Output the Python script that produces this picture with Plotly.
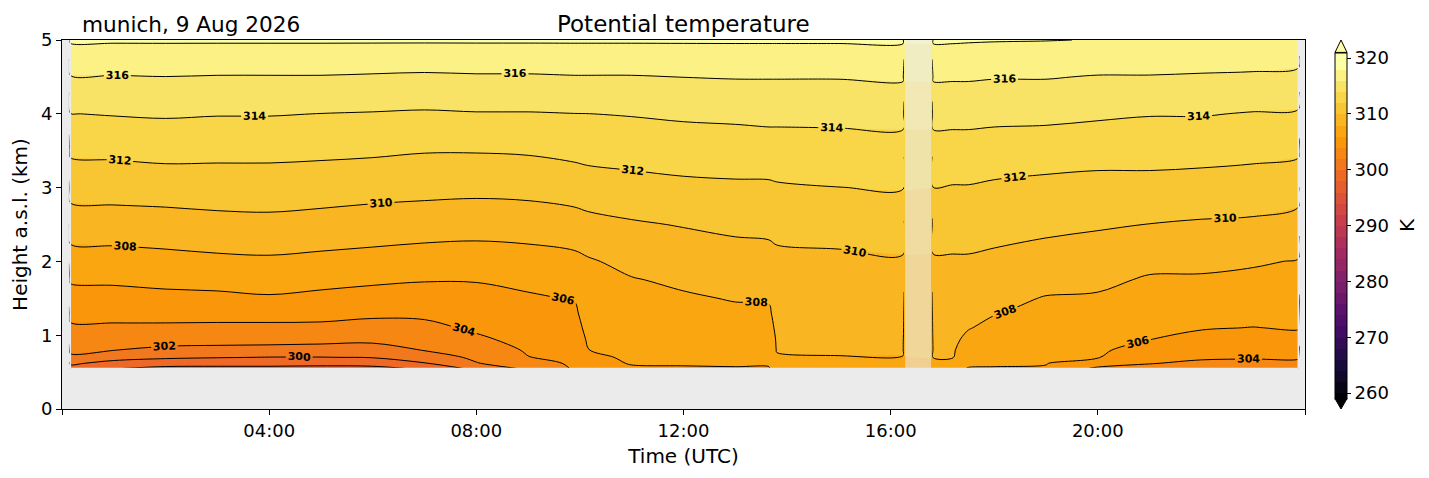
import numpy as np
import plotly.graph_objects as go
from plotly.colors import sample_colorscale

site_label = "munich, 9 Aug 2026"
title_text = "Potential temperature"

# time axis (hours UTC); 0.13 / 16.26 / 16.80 / 23.90 are the edge columns where the retrieval dips
time_h = [0.13, 0.16, 1, 2, 3, 4, 5, 6, 7, 8, 9, 9.9, 10.15, 11, 12, 13, 13.65, 13.8, 15, 16.24,
          16.26, 16.80,
          16.82, 17.2, 17.5, 18, 19, 20, 21, 22, 23, 23.87, 23.9]
height_km = [0.55, 0.62, 0.70, 0.80, 0.95, 1.1, 1.3, 1.5, 1.75, 2.0, 2.5, 3.0, 3.5, 4.0, 4.5, 5.0]

# potential temperature (K), one list per height level
th_0550 = [298.8, 299.3, 298.1, 297.5, 297.5, 297.5, 297.4, 297.5, 298.3, 300.6, 302.4, 304.2, 305.2, 305.8, 305.9, 305.95, 305.95, 306.6, 306.5, 306.5,
           306.1, 306.2,
           306.6, 306.3, 305.95, 305.95, 305.9, 303.6, 303.3, 302.2, 302.2, 302.5, 302.0]
th_0620 = [299.5, 300.3, 299.4, 298.9, 298.7, 298.7, 298.6, 298.7, 299.9, 301.9, 303.2, 304.3, 305.4, 306.1, 306.1, 306.1, 306.1, 307.3, 307.0, 307.1,
           306.3, 306.5,
           307.3, 307.1, 306.2, 306.1, 306.05, 305.1, 304.1, 303.6, 303.5, 303.5, 302.7]
th_0700 = [301.2, 301.7, 300.7, 300.3, 300.1, 299.95, 299.95, 300.1, 300.9, 302.4, 303.95, 304.5, 305.7, 306.2, 306.2, 306.3, 306.3, 307.8, 307.97, 307.97,
           306.8, 306.9,
           308.1, 308.1, 306.5, 306.4, 306.2, 306.1, 304.6, 304.3, 304.2, 304.2, 303.2]
th_0800 = [301.8, 302.3, 302.05, 301.6, 301.5, 301.4, 301.3, 301.2, 302.1, 302.9, 304.2, 304.7, 305.98, 306.3, 306.4, 306.5, 306.6, 308.1, 308.1, 308.1,
           306.9, 307.0,
           308.2, 308.2, 307.0, 306.7, 306.4, 306.3, 305.2, 304.8, 304.7, 304.7, 303.7]
th_0950 = [302.2, 303.0, 302.9, 302.8, 302.7, 302.7, 302.6, 302.5, 302.8, 303.7, 304.6, 305.0, 306.2, 306.6, 306.7, 306.9, 306.9, 308.2, 308.3, 308.3,
           307.0, 307.2,
           308.4, 308.4, 307.6, 307.1, 306.7, 306.6, 306.05, 305.6, 305.3, 305.5, 304.5]
th_1100 = [302.9, 303.7, 303.7, 303.7, 303.6, 303.6, 303.6, 303.3, 303.5, 304.3, 304.9, 305.3, 306.5, 306.8, 307.0, 307.2, 307.3, 308.4, 308.5, 308.6,
           307.4, 307.4,
           308.6, 308.6, 308.1, 307.5, 307.0, 306.9, 306.4, 306.1, 305.97, 306.1, 305.1]
th_1300 = [303.7, 304.5, 304.6, 304.6, 304.7, 304.7, 304.6, 304.4, 304.4, 304.8, 305.3, 305.7, 306.8, 307.1, 307.4, 307.7, 307.7, 308.7, 308.8, 308.8,
           307.6, 307.6,
           308.8, 308.8, 308.5, 308.1, 307.5, 307.4, 306.8, 306.6, 306.5, 306.5, 305.5]
th_1500 = [304.4, 305.2, 305.3, 305.5, 305.6, 305.8, 305.5, 305.3, 305.2, 305.4, 305.8, 306.1, 307.1, 307.5, 307.8, 308.1, 308.2, 309.0, 309.0, 309.1,
           307.9, 307.9,
           309.1, 309.1, 308.8, 308.5, 307.9, 307.8, 307.2, 307.1, 307.0, 306.9, 305.9]
th_1750 = [305.2, 306.2, 306.3, 306.5, 306.6, 306.8, 306.6, 306.3, 306.1, 306.1, 306.4, 306.8, 307.5, 307.9, 308.3, 308.7, 308.7, 309.3, 309.3, 309.5,
           308.2, 308.2,
           309.4, 309.4, 309.3, 309.1, 308.6, 308.4, 307.8, 307.8, 307.6, 307.4, 306.4]
th_2000 = [306.1, 307.1, 307.2, 307.4, 307.6, 307.7, 307.5, 307.3, 307.1, 307.0, 307.2, 307.5, 307.8, 308.5, 308.9, 309.2, 309.3, 309.6, 309.7, 309.8,
           308.6, 308.6,
           309.8, 309.8, 309.8, 309.6, 309.3, 309.0, 308.5, 308.4, 308.2, 307.9, 306.9]
th_2500 = [308.0, 309.0, 309.1, 309.2, 309.4, 309.5, 309.3, 309.1, 308.9, 308.8, 308.9, 309.2, 309.4, 309.8, 310.1, 310.4, 310.5, 310.5, 310.6, 310.9,
           309.9, 309.8,
           310.8, 310.8, 310.8, 310.7, 310.4, 310.2, 309.97, 309.8, 309.7, 309.3, 308.5]
th_3000 = [309.7, 310.7, 310.8, 310.9, 311.0, 311.0, 310.9, 310.7, 310.6, 310.5, 310.6, 310.9, 311.1, 311.3, 311.6, 311.7, 311.7, 311.8, 311.98, 312.1,
           311.1, 311.0,
           311.99, 311.9, 311.9, 311.7, 311.5, 311.4, 311.4, 311.2, 311.1, 310.8, 310.0]
th_3500 = [311.3, 312.3, 312.4, 312.6, 312.5, 312.5, 312.4, 312.3, 312.1, 312.1, 312.2, 312.5, 312.6, 312.8, 312.9, 313.0, 313.1, 313.1, 313.2, 313.2,
           312.2, 312.2,
           313.2, 313.2, 313.2, 313.1, 312.9, 312.7, 312.7, 312.7, 312.5, 312.3, 311.5]
th_4000 = [312.9, 313.97, 314.1, 314.2, 314.1, 314.1, 313.98, 313.9, 313.8, 313.9, 313.9, 313.98, 313.99, 314.1, 314.3, 314.4, 314.5, 314.5, 314.5, 314.6,
           313.5, 313.5,
           314.6, 314.6, 314.6, 314.5, 314.5, 314.3, 314.1, 314.1, 313.9, 313.8, 313.0]
th_4500 = [314.8, 315.9, 315.9, 315.98, 315.9, 315.9, 315.9, 315.8, 315.7, 315.8, 315.8, 315.9, 315.9, 315.9, 316.02, 316.1, 316.1, 316.1, 316.1, 316.2,
           315.0, 315.0,
           316.2, 316.2, 316.2, 316.1, 316.1, 315.9, 315.9, 315.8, 315.7, 315.5, 314.7]
th_5000 = [317.3, 318.2, 318.2, 318.2, 318.2, 318.2, 318.2, 318.2, 318.2, 318.2, 318.2, 318.2, 318.2, 318.2, 318.2, 318.2, 318.2, 318.2, 318.2, 318.2,
           317.1, 317.1,
           318.2, 318.2, 318.15, 318.1, 318.05, 317.95, 317.9, 317.8, 317.8, 317.6, 317.0]

gap_h = [16.28, 16.78]          # missing data, shaded
edge_cols = [0, 20, 21, 32]     # dipping edge columns (drawn by the isolines only)
gap_split = (20, 21)            # last column left of the gap, first column right of it

levels = dict(start=260, end=320, size=2)
cbar_ticks = [260, 270, 280, 290, 300, 310, 320]
hour_ticks = [0, 4, 8, 12, 16, 20, 24]
hour_text = ["", "04:00", "08:00", "12:00", "16:00", "20:00", ""]

theta = np.array([th_0550, th_0620, th_0700, th_0800, th_0950, th_1100, th_1300, th_1500,
                  th_1750, th_2000, th_2500, th_3000, th_3500, th_4000, th_4500, th_5000])
t = np.array(time_h)

# page geometry in px; the page body keeps an 8 px margin around the figure
body = 8
W, H = 1429 - body, 478 - body
ax_l, ax_r, ax_t, ax_b = 62, 1305, 40, 409          # axes box on the page
ml, mt = ax_l - body, ax_t - body
mr, mb = W + body - ax_r, H + body - ax_b
pw, ph = ax_r - ax_l, ax_b - ax_t
bg = "#ebebeb"


def px_x(x):
    return (x - ax_l) / pw


def px_y(y):
    return (ax_b - y) / ph


# inferno bands, each band shown with the colour of its upper level
span = levels["end"] - levels["start"]
n_band = int(span / levels["size"])
full = span + levels["size"]
stops = [0.0] + [(k + 1) * levels["size"] / full for k in range(n_band)] + [1.0]
cols = sample_colorscale("Inferno", [min(1.0, s * full / span) for s in stops])
colorscale = [[s, c] for s, c in zip(stops, cols)]

# colourbar: 320 at y=58, 260 at y=393; plotly adds half a band at each end
half = (393 - 58) / span * levels["size"] / 2
cb_x0, cb_x1 = px_x(1335), px_x(1347)
cb_top, cb_bot = px_y(58 - half), px_y(393 + half)

fig = go.Figure()

fill_idx = [i for i in range(len(time_h)) if i not in edge_cols]
t_fill = t[fill_idx]
fig.add_trace(go.Contour(
    x=t_fill, y=height_km, z=theta[:, fill_idx],
    autocontour=False,
    contours=dict(start=levels["start"], end=levels["end"], size=levels["size"],
                  coloring="fill", showlines=False),
    line=dict(width=0),
    colorscale=colorscale,
    colorbar=dict(x=cb_x0, xanchor="left", xpad=0, y=cb_bot, yanchor="bottom",
                  len=cb_top - cb_bot, lenmode="fraction", ypad=0,
                  thickness=12, thicknessmode="pixels",
                  outlinewidth=1, outlinecolor="black",
                  tickvals=cbar_ticks, ticks="outside", ticklen=4, tickcolor="black",
                  tickfont=dict(size=18, color="black")),
    hoverinfo="skip",
))

# black isolines, split at the data gap
for sl in (slice(0, gap_split[0] + 1), slice(gap_split[1], None)):
    fig.add_trace(go.Contour(
        x=t[sl], y=height_km, z=theta[:, sl],
        autocontour=False,
        contours=dict(start=levels["start"], end=levels["end"], size=levels["size"],
                      coloring="none", showlabels=True,
                      labelfont=dict(size=11, color="black", family="DejaVu Sans", weight="bold")),
        line=dict(color="black", width=1),
        showscale=False,
        hoverinfo="skip",
    ))

shapes = [
    dict(type="rect", xref="x", yref="y", x0=gap_h[0], x1=gap_h[1],
         y0=height_km[0], y1=height_km[-1], fillcolor=bg, opacity=0.6,
         line=dict(width=0), layer="above"),
    # extend triangles on the colourbar
    dict(type="path", xref="paper", yref="paper",
         path=f"M {cb_x0},{cb_top} L {cb_x1},{cb_top} L {(cb_x0 + cb_x1) / 2},{px_y(40)} Z",
         fillcolor=cols[-1], line=dict(color="black", width=1)),
    dict(type="path", xref="paper", yref="paper",
         path=f"M {cb_x0},{cb_bot} L {cb_x1},{cb_bot} L {(cb_x0 + cb_x1) / 2},{px_y(409)} Z",
         fillcolor=cols[0], line=dict(color="black", width=1)),
]
# hide the antialiasing fringe of the stacked fills along the data edges
for xe in (t_fill[0], t_fill[-1]):
    shapes.append(dict(type="line", xref="x", yref="y", x0=xe, x1=xe,
                       y0=height_km[0], y1=height_km[-1], line=dict(color=bg, width=1.5)))
shapes.append(dict(type="line", xref="x", yref="y", x0=t_fill[0], x1=t_fill[-1],
                   y0=height_km[0], y1=height_km[0], line=dict(color=bg, width=1.2)))

annotations = [
    dict(text=title_text, xref="paper", yref="paper", x=0.5, y=1, xanchor="center",
         yanchor="bottom", yshift=1, showarrow=False, font=dict(size=23, color="black")),
    dict(text=site_label, xref="paper", yref="paper", x=px_x(80), y=1, xanchor="left",
         yanchor="bottom", yshift=1, showarrow=False, font=dict(size=21.6, color="black")),
    dict(text="K", xref="paper", yref="paper", x=px_x(1407), y=px_y(225), xanchor="center",
         yanchor="middle", textangle=-90, showarrow=False, font=dict(size=20, color="black")),
]

axis_style = dict(showline=True, linecolor="black", linewidth=1, mirror=True,
                  ticks="outside", ticklen=5, tickcolor="black", showgrid=False,
                  zeroline=False, tickfont=dict(size=18, color="black"))

fig.update_layout(
    width=W, height=H,
    margin=dict(l=ml, r=mr, t=mt, b=mb),
    paper_bgcolor="white",
    plot_bgcolor=bg,
    font=dict(family="DejaVu Sans", color="black"),
    showlegend=False,
    shapes=shapes,
    annotations=annotations,
    xaxis=dict(range=[0, 24], tickvals=hour_ticks, ticktext=hour_text,
               title=dict(text="Time (UTC)", font=dict(size=20), standoff=9), **axis_style),
    yaxis=dict(range=[0, 5], tickvals=[0, 1, 2, 3, 4, 5],
               title=dict(text="Height a.s.l. (km)", font=dict(size=20), standoff=8), **axis_style),
)

fig.write_html("out.html")
